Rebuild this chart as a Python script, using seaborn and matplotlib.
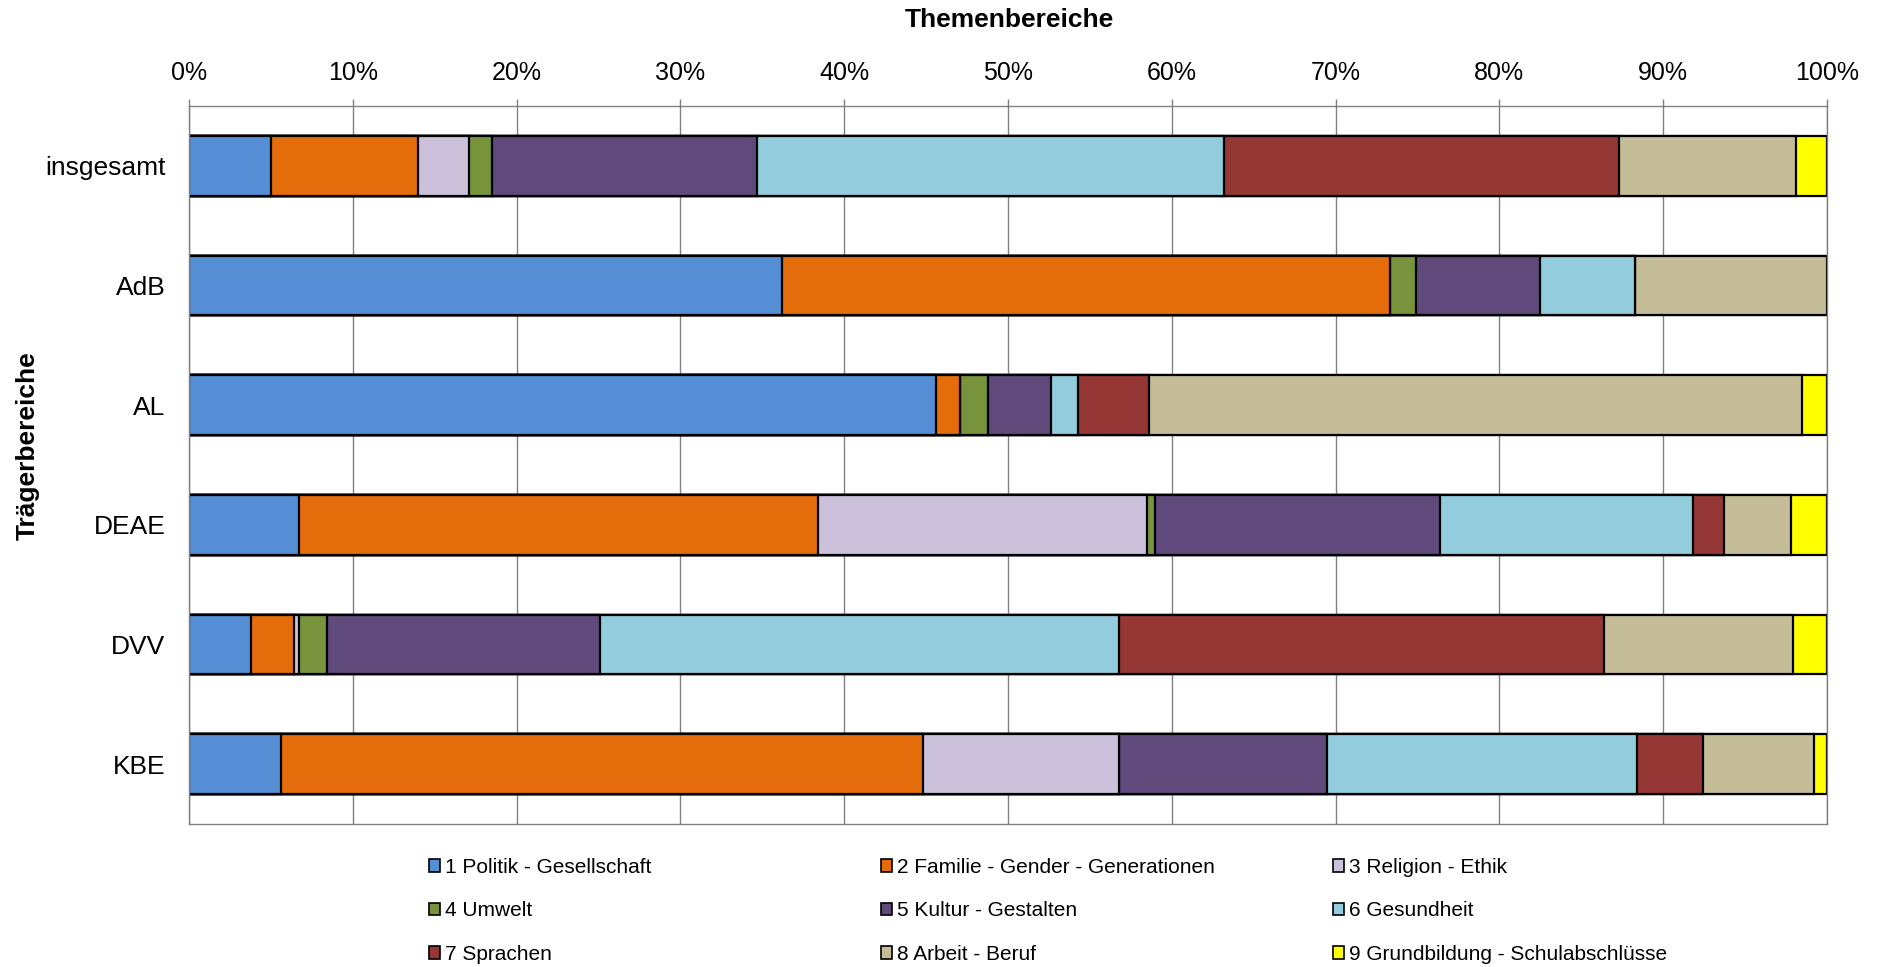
import numpy as np
import pandas as pd
import matplotlib
matplotlib.use("Agg")
import matplotlib.pyplot as plt
from matplotlib.patches import Patch
import seaborn as sns

# ---------------- data ----------------
traeger = ["insgesamt", "AdB", "AL", "DEAE", "DVV", "KBE"]
themen = ["1 Politik - Gesellschaft", "2 Familie - Gender - Generationen", "3 Religion - Ethik",
          "4 Umwelt", "5 Kultur - Gestalten", "6 Gesundheit",
          "7 Sprachen", "8 Arbeit - Beruf", "9 Grundbildung - Schulabschlüsse"]
politik      = [5.0, 36.2, 45.6, 6.7, 3.8, 5.6]
familie      = [9.0, 37.1, 1.5, 31.7, 2.6, 39.2]
religion     = [3.1, 0.0, 0.0, 20.1, 0.3, 12.0]
umwelt       = [1.4, 1.6, 1.7, 0.5, 1.7, 0.0]
kultur       = [16.2, 7.6, 3.8, 17.4, 16.7, 12.7]
gesundheit   = [28.5, 5.8, 1.7, 15.4, 31.7, 18.9]
sprachen     = [24.1, 0.0, 4.3, 1.9, 29.6, 4.0]
arbeit       = [10.8, 11.7, 39.9, 4.1, 11.5, 6.8]
grundbildung = [1.9, 0.0, 1.5, 2.2, 2.1, 0.8]
farben = ["#558ED5", "#E46C0A", "#CCC1DA", "#77933C", "#604A7B",
          "#93CDDD", "#953735", "#C4BD97", "#FFFF00"]
x_ticks = [0, 10, 20, 30, 40, 50, 60, 70, 80, 90, 100]

series = [politik, familie, religion, umwelt, kultur, gesundheit, sprachen, arbeit, grundbildung]
cum = np.cumsum(np.array(series, dtype=float), axis=0)

# ---------------- figure ----------------
sns.set_theme(style="white")
plt.rcParams["font.family"] = ["Liberation Sans", "DejaVu Sans"]
plt.rcParams["text.color"] = "black"

fig = plt.figure(figsize=(18.78, 9.67), dpi=100)
ax = fig.add_axes([189 / 1878, 1 - 824 / 967, (1827 - 189) / 1878, (824 - 106) / 967])

# stacked bars drawn as overlaid cumulative totals (largest first)
for i in range(len(series) - 1, -1, -1):
    df = pd.DataFrame({"Träger": traeger, "Wert": cum[i]})
    sns.barplot(data=df, x="Wert", y="Träger", order=traeger, orient="h",
                color=farben[i], saturation=1, width=0.5, errorbar=None,
                edgecolor="black", linewidth=1.6, ax=ax)

ax.set_xlim(0, 100)
ax.set_ylim(5.5, -0.5)
ax.set_xticks(x_ticks)
ax.set_xticklabels([f"{t}%" for t in x_ticks])
ax.xaxis.tick_top()
ax.tick_params(axis="x", which="both", top=True, bottom=False, labeltop=True, labelbottom=False,
               length=5, width=1, color="#808080", pad=10, labelsize=18, labelcolor="black")
ax.tick_params(axis="y", length=0, pad=17, labelsize=19, labelcolor="black")
ax.grid(axis="x", color="#808080", linewidth=1)
ax.grid(axis="y", visible=False)
ax.set_axisbelow(True)
for s in ax.spines.values():
    s.set_visible(True)
    s.set_color("#808080")
    s.set_linewidth(1)
ax.set_xlabel("")
ax.set_ylabel("")

fig.text(1009 / 1878, 1 - 20 / 967, "Themenbereiche", ha="center", va="center",
         fontsize=19, fontweight="bold", color="black")
fig.text(28 / 1878, 1 - 446 / 967, "Trägerbereiche", ha="center", va="center",
         rotation=90, fontsize=19, fontweight="bold", color="black")

# legend: three columns placed at fixed positions, filled row-wise
handles = [Patch(facecolor=farben[i], edgecolor="black", linewidth=1.2, label=themen[i])
           for i in range(9)]
col_x = [429, 881, 1333]
for c in range(3):
    hs = [handles[c], handles[c + 3], handles[c + 6]]
    leg = fig.legend(handles=hs, loc="upper left",
                     bbox_to_anchor=(col_x[c] / 1878, 1 - 858 / 967),
                     bbox_transform=fig.transFigure, frameon=False, ncol=1,
                     fontsize=15, borderpad=0, borderaxespad=0,
                     handlelength=0.55, handleheight=0.55, handletextpad=0.2,
                     labelspacing=1.17, labelcolor="black")

fig.savefig("out.png", dpi=100)
